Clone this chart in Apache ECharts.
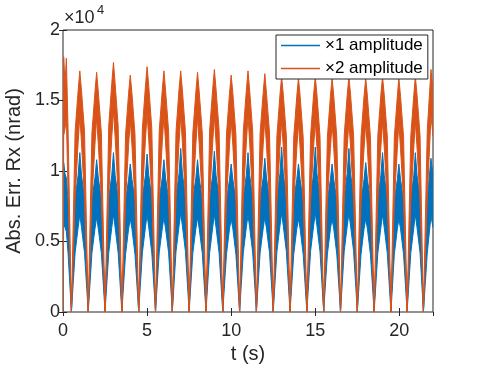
<!DOCTYPE html>
<html>
<head>
<meta charset="utf-8">
<script src="https://cdn.jsdelivr.net/npm/echarts@6/dist/echarts.min.js"></script>
<style>
  html, body { margin: 0; padding: 0; background: #fff; }
  #chart { width: 479px; height: 371px; }
</style>
</head>
<body>
<div id="chart"></div>
<script>
// time (s), one row per oscillation arch: rise, near-peak, peak, near-peak, fall, zero
const timeS = [
  0, 0.04, 0.12, 0.2, 0.3, 0.5,
  0.72, 0.9, 1, 1.1, 1.28, 1.5,
  1.72, 1.9, 2, 2.1, 2.28, 2.5,
  2.72, 2.9, 3, 3.1, 3.28, 3.5,
  3.72, 3.9, 4, 4.1, 4.28, 4.5,
  4.72, 4.9, 5, 5.1, 5.28, 5.5,
  5.72, 5.9, 6, 6.1, 6.28, 6.5,
  6.72, 6.9, 7, 7.1, 7.28, 7.5,
  7.72, 7.9, 8, 8.1, 8.28, 8.5,
  8.72, 8.9, 9, 9.1, 9.28, 9.5,
  9.72, 9.9, 10, 10.1, 10.28, 10.5,
  10.72, 10.9, 11, 11.1, 11.28, 11.5,
  11.72, 11.9, 12, 12.1, 12.28, 12.5,
  12.72, 12.9, 13, 13.1, 13.28, 13.5,
  13.72, 13.9, 14, 14.1, 14.28, 14.5,
  14.72, 14.9, 15, 15.1, 15.28, 15.5,
  15.72, 15.9, 16, 16.1, 16.28, 16.5,
  16.72, 16.9, 17, 17.1, 17.28, 17.5,
  17.72, 17.9, 18, 18.1, 18.28, 18.5,
  18.72, 18.9, 19, 19.1, 19.28, 19.5,
  19.7, 19.88, 19.97, 20.07, 20.25, 20.46,
  20.68, 20.86, 20.95, 21.05, 21.23, 21.43,
  21.66, 21.88, 22
]

// x1 amplitude (blue), upper and lower edge of the noisy band, in 1e4 nrad
const amp1Upper = [
  0, 1.06, 0.98, 0.95, 0.80, 0,
  0.81, 0.97, 1.13, 0.97, 0.81, 0,
  0.80, 0.95, 1.08, 0.95, 0.80, 0,
  0.81, 0.97, 1.13, 0.97, 0.81, 0,
  0.79, 0.94, 1.05, 0.94, 0.79, 0,
  0.81, 0.97, 1.12, 0.97, 0.81, 0,
  0.80, 0.95, 1.08, 0.95, 0.80, 0,
  0.82, 0.98, 1.16, 0.98, 0.82, 0,
  0.80, 0.95, 1.08, 0.95, 0.80, 0,
  0.81, 0.97, 1.14, 0.97, 0.81, 0,
  0.79, 0.94, 1.05, 0.94, 0.79, 0,
  0.81, 0.97, 1.13, 0.97, 0.81, 0,
  0.80, 0.95, 1.09, 0.95, 0.80, 0,
  0.82, 0.98, 1.17, 0.98, 0.82, 0,
  0.79, 0.94, 1.05, 0.94, 0.79, 0,
  0.82, 0.98, 1.17, 0.98, 0.82, 0,
  0.79, 0.94, 1.05, 0.94, 0.79, 0,
  0.82, 0.98, 1.16, 0.98, 0.82, 0,
  0.79, 0.94, 1.06, 0.94, 0.79, 0,
  0.81, 0.97, 1.13, 0.97, 0.81, 0,
  0.79, 0.94, 1.05, 0.94, 0.79, 0,
  0.81, 0.97, 1.13, 0.97, 0.81, 0,
  0.80, 1.09, 0.97
]
const amp1Lower = [
  0, 0.62, 0.60, 0.57, 0.42, 0,
  0.42, 0.60, 0.69, 0.60, 0.42, 0,
  0.42, 0.59, 0.67, 0.59, 0.42, 0,
  0.42, 0.60, 0.69, 0.60, 0.42, 0,
  0.41, 0.59, 0.66, 0.59, 0.41, 0,
  0.42, 0.60, 0.69, 0.60, 0.42, 0,
  0.42, 0.59, 0.67, 0.59, 0.42, 0,
  0.43, 0.61, 0.70, 0.61, 0.43, 0,
  0.42, 0.59, 0.67, 0.59, 0.42, 0,
  0.42, 0.60, 0.69, 0.60, 0.42, 0,
  0.41, 0.59, 0.66, 0.59, 0.41, 0,
  0.42, 0.60, 0.69, 0.60, 0.42, 0,
  0.42, 0.59, 0.67, 0.59, 0.42, 0,
  0.43, 0.61, 0.70, 0.61, 0.43, 0,
  0.41, 0.59, 0.66, 0.59, 0.41, 0,
  0.43, 0.61, 0.70, 0.61, 0.43, 0,
  0.41, 0.59, 0.66, 0.59, 0.41, 0,
  0.43, 0.61, 0.70, 0.61, 0.43, 0,
  0.41, 0.59, 0.66, 0.59, 0.41, 0,
  0.42, 0.60, 0.69, 0.60, 0.42, 0,
  0.41, 0.59, 0.66, 0.59, 0.41, 0,
  0.42, 0.60, 0.69, 0.60, 0.42, 0,
  0.42, 0.68, 0.60
]

// x2 amplitude (orange)
const amp2Upper = [
  0, 1.81, 1.62, 1.80, 1.30, 0,
  1.28, 1.57, 1.71, 1.57, 1.28, 0,
  1.27, 1.56, 1.70, 1.56, 1.27, 0,
  1.32, 1.62, 1.77, 1.62, 1.32, 0,
  1.26, 1.55, 1.68, 1.55, 1.26, 0,
  1.30, 1.60, 1.74, 1.60, 1.30, 0,
  1.28, 1.57, 1.71, 1.57, 1.28, 0,
  1.28, 1.58, 1.71, 1.57, 1.28, 0,
  1.27, 1.56, 1.70, 1.56, 1.27, 0,
  1.29, 1.58, 1.72, 1.58, 1.29, 0,
  1.26, 1.55, 1.68, 1.55, 1.26, 0,
  1.28, 1.57, 1.71, 1.57, 1.28, 0,
  1.27, 1.55, 1.69, 1.55, 1.27, 0,
  1.25, 1.54, 1.67, 1.54, 1.25, 0,
  1.24, 1.53, 1.66, 1.53, 1.24, 0,
  1.25, 1.54, 1.67, 1.54, 1.25, 0,
  1.24, 1.53, 1.66, 1.53, 1.24, 0,
  1.25, 1.54, 1.67, 1.54, 1.25, 0,
  1.24, 1.53, 1.66, 1.53, 1.24, 0,
  1.25, 1.54, 1.67, 1.54, 1.25, 0,
  1.24, 1.53, 1.66, 1.53, 1.24, 0,
  1.25, 1.54, 1.67, 1.54, 1.25, 0,
  1.29, 1.72, 1.58
]
const amp2Lower = [
  0, 1.25, 1.30, 1.38, 0.85, 0,
  0.80, 1.20, 1.39, 1.20, 0.80, 0,
  0.80, 1.19, 1.38, 1.19, 0.80, 0,
  0.83, 1.24, 1.43, 1.24, 0.83, 0,
  0.79, 1.18, 1.36, 1.18, 0.79, 0,
  0.82, 1.22, 1.41, 1.22, 0.82, 0,
  0.80, 1.20, 1.39, 1.20, 0.80, 0,
  0.80, 1.20, 1.39, 1.20, 0.80, 0,
  0.80, 1.19, 1.38, 1.19, 0.80, 0,
  0.81, 1.20, 1.39, 1.20, 0.81, 0,
  0.79, 1.18, 1.36, 1.18, 0.79, 0,
  0.80, 1.20, 1.39, 1.20, 0.80, 0,
  0.79, 1.18, 1.37, 1.18, 0.79, 0,
  0.78, 1.17, 1.35, 1.17, 0.78, 0,
  0.78, 1.16, 1.34, 1.16, 0.78, 0,
  0.78, 1.17, 1.35, 1.17, 0.78, 0,
  0.78, 1.16, 1.34, 1.16, 0.78, 0,
  0.78, 1.17, 1.35, 1.17, 0.78, 0,
  0.78, 1.16, 1.34, 1.16, 0.78, 0,
  0.78, 1.17, 1.35, 1.17, 0.78, 0,
  0.78, 1.16, 1.34, 1.16, 0.78, 0,
  0.78, 1.17, 1.35, 1.17, 0.78, 0,
  0.81, 1.39, 1.25
]

const seriesNames = ['×1 amplitude', '×2 amplitude']
const seriesColors = ['#0072BD', '#D95319']
const xTicks = { min: 0, max: 22, step: 5 }
const yTicks = { min: 0, max: 2, step: 0.5 }

const FONT = '"Liberation Sans", Arial, Helvetica, sans-serif'
const AXIS_COLOR = '#262626'

const chart = echarts.init(document.getElementById('chart'), null, { renderer: 'canvas' })

// noisy band drawn as one polygon: upper edge forward, lower edge back
function bandSeries(name, color, upper, lower) {
  return {
    name: name,
    type: 'custom',
    clip: true,
    itemStyle: { color: color },
    data: [[0, 0]],
    renderItem: (params, api) => {
      const pts = []
      for (let i = 0; i < timeS.length; i++) pts.push(api.coord([timeS[i], upper[i]]))
      for (let i = timeS.length - 1; i >= 0; i--) pts.push(api.coord([timeS[i], lower[i]]))
      return {
        type: 'polygon',
        shape: { points: pts },
        style: { fill: color, stroke: color, lineWidth: 1 }
      }
    }
  }
}

const tickStyle = { inside: true, length: 4, lineStyle: { color: AXIS_COLOR, width: 1 } }

const option = {
  animation: false,
  textStyle: { fontFamily: FONT },
  grid: {
    left: 63, right: 46, top: 30, bottom: 59,
    outerBoundsMode: 'none',
    containLabel: false,
    show: true, borderColor: AXIS_COLOR, borderWidth: 1, backgroundColor: '#fff'
  },
  xAxis: [{
    type: 'value',
    min: xTicks.min, max: xTicks.max, interval: xTicks.step,
    position: 'bottom',
    axisLine: { show: false },
    splitLine: { show: false },
    axisTick: tickStyle,
    axisLabel: { margin: 10, fontSize: 18, color: AXIS_COLOR, fontFamily: FONT, showMaxLabel: false },
    name: 't (s)',
    nameLocation: 'middle',
    nameGap: 32,
    nameTextStyle: { fontSize: 20, color: AXIS_COLOR, fontFamily: FONT }
  }, {
    type: 'value',
    min: xTicks.min, max: xTicks.max, interval: xTicks.step,
    position: 'top',
    axisLine: { show: false },
    splitLine: { show: false },
    axisTick: tickStyle,
    axisLabel: { show: false }
  }],
  yAxis: [{
    type: 'value',
    min: yTicks.min, max: yTicks.max, interval: yTicks.step,
    position: 'left',
    axisLine: { show: false },
    splitLine: { show: false },
    axisTick: tickStyle,
    axisLabel: { margin: 3, fontSize: 18, color: AXIS_COLOR, fontFamily: FONT },
    name: 'Abs. Err. Rx (nrad)',
    nameLocation: 'middle',
    nameRotate: 90,
    nameGap: 35,
    nameTextStyle: { fontSize: 20, color: AXIS_COLOR, fontFamily: FONT }
  }, {
    type: 'value',
    min: yTicks.min, max: yTicks.max, interval: yTicks.step,
    position: 'right',
    axisLine: { show: false },
    splitLine: { show: false },
    axisTick: tickStyle,
    axisLabel: { show: false }
  }],
  legend: {
    orient: 'vertical',
    left: 276,
    top: 35,
    icon: 'rect',
    itemWidth: 39,
    itemHeight: 1.5,
    itemGap: 6,
    padding: [2, 5, 2, 5],
    borderColor: AXIS_COLOR,
    borderWidth: 1,
    backgroundColor: '#fff',
    textStyle: { fontSize: 17, color: '#000', fontFamily: FONT },
    data: seriesNames
  },
  graphic: [
    { type: 'text', left: 64, top: 9, style: { text: '×10', fontSize: 18, fill: AXIS_COLOR, fontFamily: FONT } },
    { type: 'text', left: 97, top: 4, style: { text: '4', fontSize: 13, fill: AXIS_COLOR, fontFamily: FONT } }
  ],
  series: [
    bandSeries(seriesNames[0], seriesColors[0], amp1Upper, amp1Lower),
    bandSeries(seriesNames[1], seriesColors[1], amp2Upper, amp2Lower)
  ]
}

chart.setOption(option)
</script>
</body>
</html>
